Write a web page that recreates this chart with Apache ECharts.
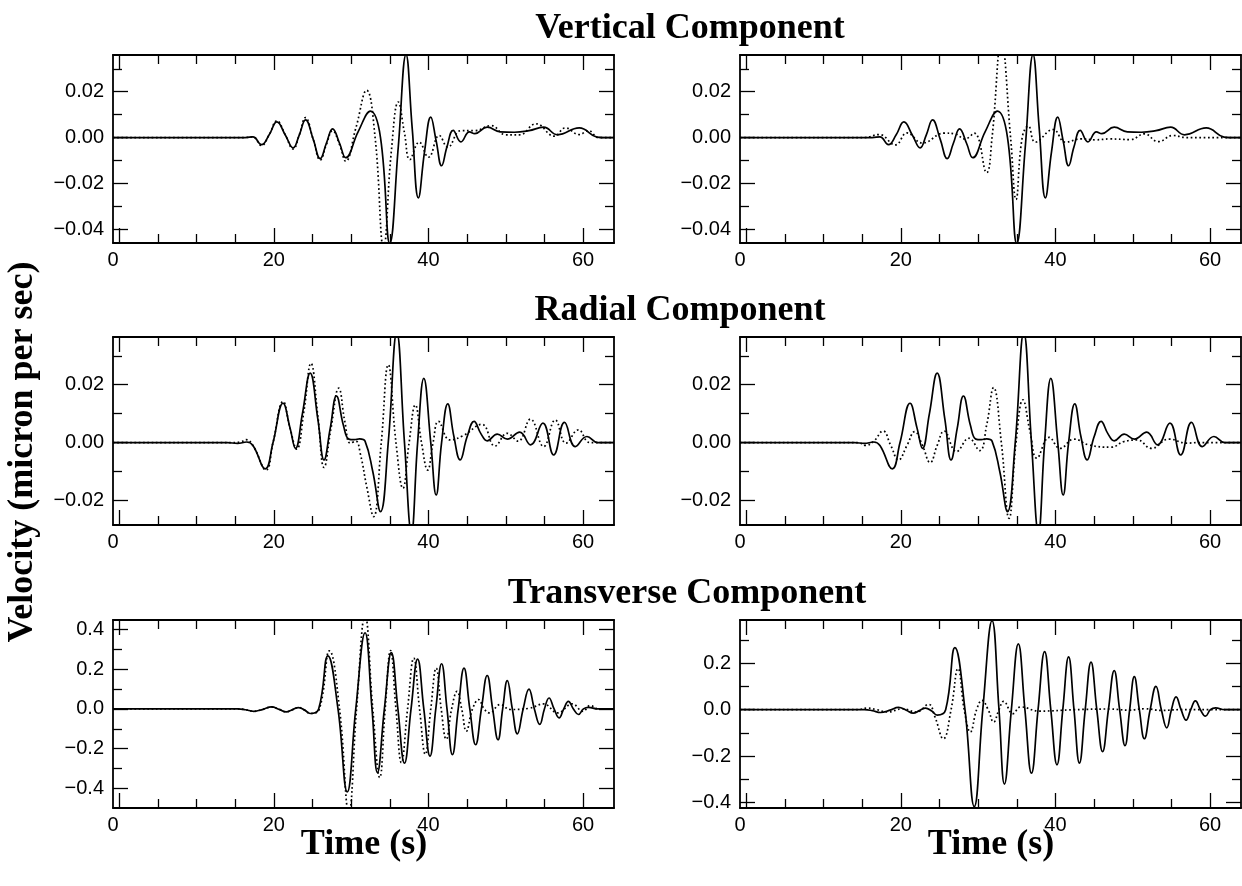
<!DOCTYPE html>
<html><head><meta charset="utf-8">
<script src="https://cdn.jsdelivr.net/npm/echarts@6/dist/echarts.min.js"></script>
<style>html,body{margin:0;padding:0;background:#fff}#c{width:1242px;height:886px}</style>
</head><body><div id="c"></div>
<script>
// ---------- data (time in s, velocity in micron/s) ----------
const timeLabels = [0, 20, 40, 60];
const timeMajorTicks = [0, 20, 40, 60];
const timeMinorTicks = [5, 10, 15, 25, 30, 35, 45, 50, 55];

const vertYMajor = [-0.04, -0.02, 0, 0.02];
const vertYMinor = [-0.03, -0.01, 0.01, 0.03];
const radYMajor = [-0.02, 0, 0.02];
const radYMinor = [-0.01, 0.01, 0.03];
const transYMajorL = [-0.4, -0.2, 0, 0.2, 0.4];
const transYMajorR = [-0.4, -0.2, 0, 0.2];
const transYMinor = [-0.3, -0.1, 0.1, 0.3];

const vertRange = [-0.046, 0.036];
const radRange = [-0.0285, 0.0365];
const transRangeL = [-0.498, 0.447];
const transRangeR = [-0.423, 0.386];

const vertObs = [[-0.8,0],[16.3,0],[17.3,0.0003],[18.4,-0.0031],[19.4,0.0012],[20.4,0.0068],[21.5,0.0010],[22.5,-0.0045],[23.3,0.0012],[24.1,0.0077],[25.1,-0.0008],[26.0,-0.0092],[26.8,-0.0025],[27.6,0.0038],[28.5,-0.0025],[29.3,-0.0088],[30.9,0.0025],[32.5,0.0115],[33.8,0.0],[35.0,-0.0462],[36.1,-0.004],[37.1,0.0362],[37.9,0.004],[38.7,-0.0263],[39.5,-0.006],[40.3,0.0089],[41.0,-0.0015],[41.7,-0.0123],[42.4,-0.004],[43.2,0.0031],[44.2,-0.0019],[45.3,0.0025],[46.0,0.0017],[47.6,0.0045],[49.3,0.0025],[51.1,0.0023],[53.0,0.003],[54.9,0.0045],[56.7,0.0012],[59.5,0.0042],[61.8,0.0002],[62.5,0],[64,0]];
const vertSynL = [[-0.8,0],[16.3,0],[17.3,0.0003],[18.4,-0.0035],[19.4,0.0012],[20.4,0.0073],[21.5,0.0010],[22.5,-0.005],[23.3,0.0012],[24.1,0.0087],[25.1,-0.0008],[26.0,-0.0098],[26.8,-0.003],[27.6,0.003],[28.5,-0.003],[29.3,-0.0103],[30.6,0.004],[32.0,0.0206],[33.1,0.0],[34.2,-0.048],[35.2,-0.006],[36.1,0.0155],[36.9,0.002],[37.6,-0.0096],[38.8,-0.002],[40.0,-0.0086],[41.4,0.0009],[42.5,-0.0042],[44.2,0.003],[46.0,0.003],[48.1,0.0052],[50.0,0.0012],[51.8,0.0012],[53.9,0.006],[56.3,0.0006],[57.7,0.0042],[59.5,0.0013],[60.7,0.003],[62.0,0],[64,0]];
const vertSynR = [[-0.8,0],[15.3,0],[17.2,0.0013],[19.3,-0.0032],[20.8,0.002],[22.8,-0.0024],[25.6,0.0019],[27.0,0.0016],[28.3,-0.0006],[29.5,0.0019],[31.1,-0.0153],[31.8,0],[33.0,0.042],[34.2,0],[34.9,-0.027],[35.7,0],[36.5,0.005],[37.4,-0.002],[39.7,0.0035],[41.3,-0.002],[43.3,-0.0006],[45.2,-0.001],[47.0,-0.0006],[49.7,-0.0009],[51.5,0.0016],[53.3,-0.0018],[55.2,0.0009],[57.0,0],[64,0]];

const radObs = [[-0.8,0],[14.0,0],[15.3,-0.0003],[16.5,0.0002],[17.3,-0.001],[18.9,-0.0091],[19.9,0],[21.2,0.0136],[22.1,0.005],[22.8,-0.002],[23.7,0.010],[24.7,0.024],[25.7,0.008],[26.5,-0.006],[27.3,0.005],[28.1,0.0161],[29.0,0.006],[29.7,0.0012],[30.4,0.0010],[31.1,0.0013],[31.8,0.0005],[32.8,-0.010],[33.8,-0.0239],[34.8,0],[35.9,0.038],[36.9,0],[37.8,-0.031],[38.6,0],[39.4,0.0222],[40.3,0],[41.0,-0.0181],[41.7,0],[42.5,0.0134],[43.3,0.002],[44.1,-0.006],[45.0,0.002],[45.9,0.0073],[46.8,0.003],[47.6,0.0006],[48.9,0.0029],[50.2,0.0012],[51.8,0.0036],[53.2,-0.0008],[54.8,0.0067],[56.2,-0.0043],[57.6,0.007],[59.0,-0.0014],[60.5,0.0021],[61.9,0],[64,0]];
const radSynL = [[-0.8,0],[14.5,0],[15.8,0.0003],[16.4,0.001],[17.3,-0.001],[19.0,-0.0095],[19.9,0],[21.2,0.0142],[22.1,0.005],[22.96,-0.0023],[23.9,0.011],[24.8,0.0274],[25.7,0.009],[26.5,-0.0086],[27.4,0.005],[28.4,0.0188],[29.2,0.007],[29.9,-0.0002],[30.6,0.0005],[31.2,-0.004],[32.0,-0.015],[32.9,-0.0256],[33.9,0],[34.8,0.0269],[35.8,0],[36.7,-0.0158],[37.5,0],[38.3,0.013],[39.1,0],[39.9,-0.0095],[40.6,0],[41.3,0.0073],[42.8,0.0009],[44.5,0.0024],[46.9,0.0063],[48.6,-0.0012],[50.2,0.0032],[51.6,0.0005],[53.2,0.0081],[54.9,-0.0014],[56.4,0.0078],[57.8,-0.0002],[59.4,0.0044],[60.9,0],[64,0]];
const radSynR = [[-0.8,0],[14.5,0],[15.4,-0.001],[16.5,0.0005],[17.7,0.004],[18.7,-0.001],[19.7,-0.006],[20.8,-0.001],[21.8,0.0038],[22.8,-0.001],[23.8,-0.0069],[24.7,-0.001],[25.6,0.004],[27.2,-0.0031],[28.8,0.0015],[30.2,-0.0028],[31.1,0.006],[32.0,0.019],[33.0,0],[34.0,-0.0262],[34.9,0],[35.8,0.0148],[36.7,0.004],[37.6,-0.0054],[39.2,0.0018],[40.6,-0.002],[42.4,0.0012],[44.3,-0.0008],[47.2,-0.0016],[48.8,0.0003],[50.6,0.0009],[52.4,-0.002],[54.7,0.0012],[57.0,-0.0002],[58.5,0],[64,0]];

const transObs = [[-0.8,0],[15.3,0],[16.3,-0.004],[17.4,-0.012],[18.6,-0.002],[19.7,0.010],[20.7,-0.002],[21.6,-0.015],[22.4,-0.004],[23.2,0.007],[24.0,-0.006],[24.7,-0.023],[25.8,0],[27.0,0.267],[28.3,0],[29.5,-0.417],[30.6,0],[31.8,0.383],[32.7,0],[33.4,-0.32],[34.3,0],[35.2,0.283],[36.05,0],[36.9,-0.273],[37.75,0],[38.6,0.25],[39.4,0],[40.2,-0.237],[40.95,0],[41.7,0.227],[42.4,0],[43.1,-0.23],[43.85,0],[44.6,0.205],[45.35,0],[46.1,-0.18],[46.85,0],[47.6,0.168],[48.3,0],[49.0,-0.155],[49.6,0],[50.2,0.142],[50.85,0],[51.5,-0.125],[52.25,0],[53.0,0.1],[53.7,0],[54.4,-0.078],[55.0,0],[55.6,0.055],[56.25,0],[56.9,-0.045],[57.5,0],[58.1,0.038],[58.75,0],[59.4,-0.028],[60.05,0],[60.7,0.008],[61.9,0],[64,0]];
const transSynL = [[-0.8,0],[15.3,0],[16.3,-0.004],[17.4,-0.012],[18.6,-0.002],[19.7,0.010],[20.7,-0.002],[21.6,-0.015],[22.4,-0.004],[23.2,0.007],[24.0,-0.006],[24.7,-0.023],[25.9,0],[27.2,0.292],[28.5,0],[29.7,-0.52],[30.7,0],[31.8,0.47],[32.8,0],[33.7,-0.345],[34.4,0],[35.1,0.293],[35.8,0],[36.5,-0.27],[37.3,0],[38.1,0.255],[38.85,0],[39.6,-0.228],[40.3,0],[41.0,0.205],[41.65,0],[42.3,-0.153],[43.0,0],[43.7,0.088],[44.3,0],[44.9,-0.112],[45.7,0],[46.5,0.047],[47.2,0],[47.9,-0.02],[49.3,0.022],[50.6,-0.003],[53.0,0.003],[54.9,0.025],[56.7,-0.02],[58.6,0.025],[60.0,-0.012],[60.9,0.017],[62.0,0],[64,0]];
const transSynR = [[-0.8,0],[14.5,0],[15.6,0.007],[16.9,0],[18.3,-0.01],[20.2,0.004],[22.0,-0.01],[23.6,0.023],[24.4,-0.03],[25.5,-0.125],[26.5,0],[27.4,0.177],[28.2,0],[29.0,-0.096],[29.8,0],[30.5,0.04],[31.3,0],[32.0,-0.053],[32.7,0],[33.3,0.036],[34.5,-0.017],[35.5,0.012],[37.9,-0.006],[42.5,0],[47.0,0.003],[49.5,-0.002],[51.5,0.004],[53.8,-0.003],[56.0,0],[64,0]];

const rowTitles = ['Vertical Component', 'Radial Component', 'Transverse Component'];
const yTitle = 'Velocity (micron per sec)';
const xTitle = 'Time (s)';

// ---------- layout ----------
const tickFont = '"Liberation Sans", Arial, sans-serif';
const serifFont = '"Liberation Serif", "DejaVu Serif", serif';
const gridLefts = [113, 740];
const gridTops = [55, 337, 620];
const gridW = 501, gridH = 188;

const panels = [
  {row:0, col:0, obs:vertObs, syn:vertSynL, range:vertRange, major:vertYMajor, minor:vertYMinor, dec:2},
  {row:0, col:1, obs:vertObs, syn:vertSynR, range:vertRange, major:vertYMajor, minor:vertYMinor, dec:2},
  {row:1, col:0, obs:radObs, syn:radSynL, range:radRange, major:radYMajor, minor:radYMinor, dec:2},
  {row:1, col:1, obs:radObs, syn:radSynR, range:radRange, major:radYMajor, minor:radYMinor, dec:2},
  {row:2, col:0, obs:transObs, syn:transSynL, range:transRangeL, major:transYMajorL, minor:transYMinor, dec:1},
  {row:2, col:1, obs:transObs, syn:transSynR, range:transRangeR, major:transYMajorR, minor:transYMinor, dec:1}
];

const lineCol = '#000';
const frame = {show:true, onZero:false, lineStyle:{color:lineCol, width:1.8}};
const noLine = {show:false, onZero:false};
const majTick = vals => ({show:true, inside:true, length:15, customValues:vals, lineStyle:{color:lineCol, width:1.3}});
const minTick = vals => ({show:true, inside:true, length:9, customValues:vals, lineStyle:{color:lineCol, width:1.3}});
const labelStyle = {color:'#000', fontFamily:tickFont, fontSize:20};

const grid = [], xAxis = [], yAxis = [], series = [];
panels.forEach((p, g) => {
  grid.push({left:gridLefts[p.col], top:gridTops[p.row], width:gridW, height:gridH, containLabel:false});
  const xc = {gridIndex:g, type:'value', min:-0.8, max:64, splitLine:{show:false}, axisLabel:{show:false}, axisTick:{show:false}, axisLine:noLine};
  const xMainIdx = xAxis.length;
  xAxis.push(Object.assign({}, xc, {position:'bottom', axisLine:frame, axisTick:majTick(timeMajorTicks),
    axisLabel:Object.assign({show:true, margin:7, customValues:[-0.8].concat(timeLabels.slice(1)),
      formatter: v => String(Math.max(0, Math.round(v)))}, labelStyle)}));
  xAxis.push(Object.assign({}, xc, {position:'bottom', axisTick:minTick(timeMinorTicks)}));
  xAxis.push(Object.assign({}, xc, {position:'top', axisLine:frame, axisTick:majTick(timeMajorTicks)}));
  xAxis.push(Object.assign({}, xc, {position:'top', axisTick:minTick(timeMinorTicks)}));

  const yc = {gridIndex:g, type:'value', min:p.range[0], max:p.range[1], splitLine:{show:false}, axisLabel:{show:false}, axisTick:{show:false}, axisLine:noLine};
  const yMainIdx = yAxis.length;
  yAxis.push(Object.assign({}, yc, {position:'left', axisLine:frame, axisTick:majTick(p.major),
    axisLabel:Object.assign({show:true, margin:9, customValues:p.major,
      formatter: v => (v < -1e-9 ? '\u2212' : '') + Math.abs(v).toFixed(p.dec)}, labelStyle)}));
  yAxis.push(Object.assign({}, yc, {position:'left', axisTick:minTick(p.minor)}));
  yAxis.push(Object.assign({}, yc, {position:'right', axisLine:frame, axisTick:majTick(p.major)}));
  yAxis.push(Object.assign({}, yc, {position:'right', axisTick:minTick(p.minor)}));

  series.push({type:'line', xAxisIndex:xMainIdx, yAxisIndex:yMainIdx, data:p.obs, showSymbol:false, smooth:0.45,
    lineStyle:{color:lineCol, width:1.7}, clip:true, z:3});
  series.push({type:'line', xAxisIndex:xMainIdx, yAxisIndex:yMainIdx, data:p.syn, showSymbol:false, smooth:0.45,
    lineStyle:{color:lineCol, width:1.7, type:[1.7, 2.6]}, clip:true, z:2});
});

const titleFont = 'bold 36px ' + serifFont;
const txt = (text, x, y, rot) => ({type:'text', x:x, y:y, rotation:rot || 0, silent:true,
  style:{text:text, font:titleFont, fill:'#000', textAlign:'center', textVerticalAlign:'middle', align:'center', verticalAlign:'middle'}});
const graphic = [
  txt(rowTitles[0], 690, 29),
  txt(rowTitles[1], 680, 311),
  txt(rowTitles[2], 687, 594),
  txt(yTitle, 23, 452, Math.PI / 2),
  txt(xTitle, 364, 845),
  txt(xTitle, 991, 845)
];

const chart = echarts.init(document.getElementById('c'), null, {renderer:'canvas', width:1242, height:886});
chart.setOption({animation:false, backgroundColor:'#fff', grid, xAxis, yAxis, series, graphic});
</script>
</body></html>
